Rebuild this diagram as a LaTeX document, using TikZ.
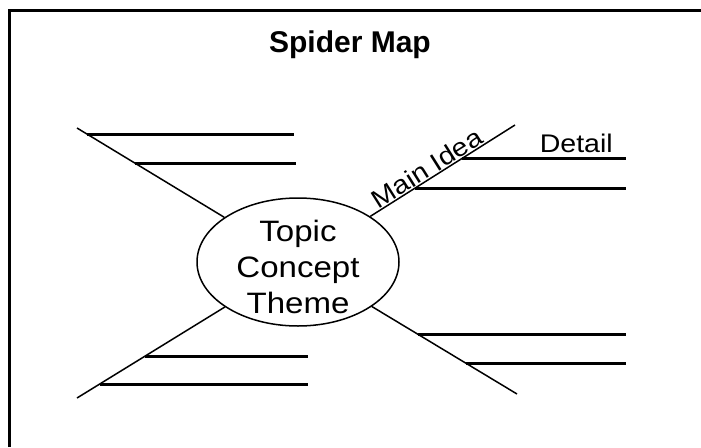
\documentclass[tikz,border=0pt]{standalone}
\usepackage{fontspec}
\setmainfont{Liberation Sans}
\newfontfamily\wide{Liberation Sans}[FakeStretch=1.12]
\usetikzlibrary{shapes.geometric}
\begin{document}
\begin{tikzpicture}[x=1pt,y=-1pt,
  branch/.style={line width=1.5pt},
  detail/.style={line width=3pt},
  frameline/.style={line width=3pt}]
\fill[white] (0,0) rectangle (701,447);
\useasboundingbox (0,0) rectangle (701,447);
% frame
\draw[frameline] (9,447) -- (9,10) -- (701,10);
% title
\node[anchor=base, font=\bfseries\fontsize{30}{34}\selectfont] (title) at (350,52) {Spider Map};
% central topic
\node[draw, line width=1.5pt, ellipse, minimum width=202pt, minimum height=128pt,
      inner sep=0pt] (topic) at (298,262) {};
\node[align=center, inner sep=0pt, font=\wide\fontsize{29.5}{36}\selectfont] (topictext) at (298,267)
  {Topic\\Concept\\Theme};
% branch ends
\coordinate (ul) at (77,128);
\coordinate (ur) at (515,125);
\coordinate (lr) at (517,394);
\coordinate (ll) at (77,398);
\draw[branch] (topic) -- (ul);
\draw[branch] (topic) -- node[sloped, above, pos=0.43, inner sep=0.5pt, font=\wide\fontsize{25.5}{28}\selectfont] (mainidea) {Main Idea} (ur);
\draw[branch] (topic) -- (lr);
\draw[branch] (topic) -- (ll);
% detail lines
\coordinate (a1) at (87,134);  \coordinate (b1) at (294,134);
\coordinate (a2) at (135,163); \coordinate (b2) at (296,163);
\coordinate (a3) at (462,158); \coordinate (b3) at (626,158);
\coordinate (a4) at (415,188); \coordinate (b4) at (626,188);
\coordinate (a5) at (418,334); \coordinate (b5) at (626,334);
\coordinate (a6) at (466,363); \coordinate (b6) at (626,363);
\coordinate (a7) at (145,356); \coordinate (b7) at (308,356);
\coordinate (a8) at (100,384); \coordinate (b8) at (308,384);
\foreach \i in {1,...,8} \draw[detail] (a\i) -- (b\i);
\node[anchor=base east, inner sep=0pt, font=\wide\fontsize{25.5}{28}\selectfont] (detailtext) at (613,152) {Detail};
\end{tikzpicture}
\end{document}
